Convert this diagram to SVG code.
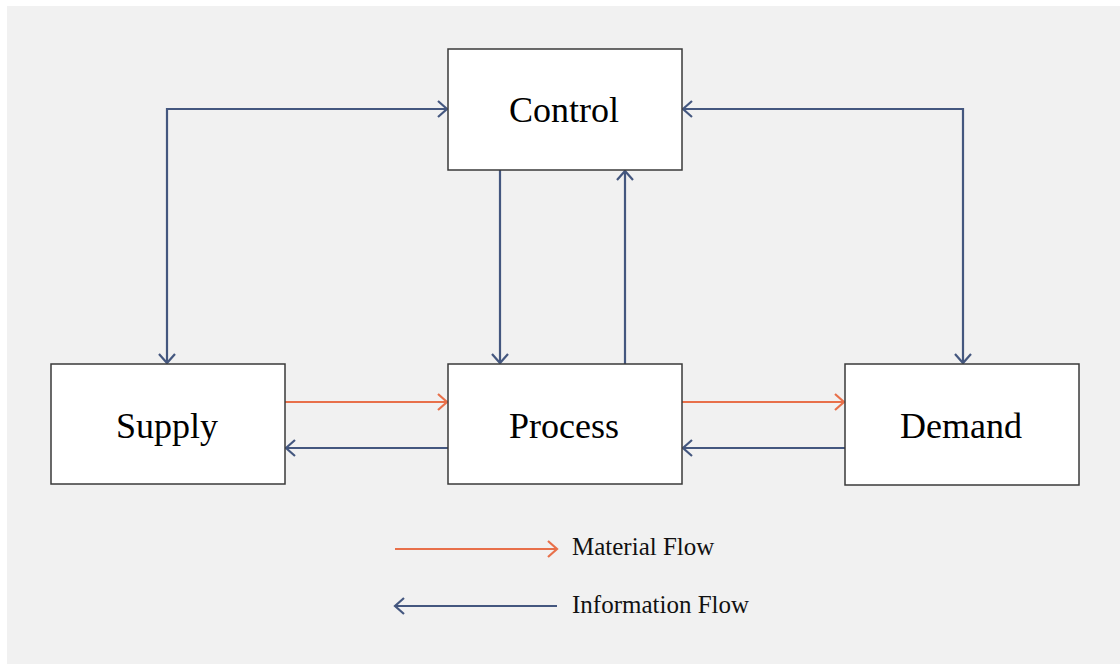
<svg xmlns="http://www.w3.org/2000/svg" width="1120" height="664" viewBox="0 0 1120 664">
  <style>
    .box { fill: #ffffff; stroke: #3a3a3a; stroke-width: 1.5; }
    .label { font-family: "Liberation Serif", "Times New Roman", serif; font-size: 36px; fill: #000; text-anchor: middle; }
    .legend { font-family: "Liberation Serif", "Times New Roman", serif; font-size: 25px; fill: #111; }
    .info { fill: none; stroke: #44577f; stroke-width: 2.2; }
    .mat { fill: none; stroke: #e8704a; stroke-width: 2.2; }
  </style>
  <defs>
    <marker id="arrInfo" markerUnits="userSpaceOnUse" markerWidth="14" markerHeight="20" refX="11" refY="10" orient="auto-start-reverse" viewBox="0 0 14 20">
      <path d="M2,2 L11,10 L2,18" fill="none" stroke="#44577f" stroke-width="2.2"/>
    </marker>
    <marker id="arrMat" markerUnits="userSpaceOnUse" markerWidth="14" markerHeight="20" refX="11" refY="10" orient="auto-start-reverse" viewBox="0 0 14 20">
      <path d="M2,2 L11,10 L2,18" fill="none" stroke="#e8704a" stroke-width="2.2"/>
    </marker>
  </defs>

  <rect x="0" y="0" width="1120" height="664" fill="#ffffff"/>
  <rect x="7" y="6" width="1113" height="658" fill="#f1f1f1"/>

  <g id="connectors">
    <!-- Supply <-> Control -->
    <path class="info" d="M447,109 H167 V363" marker-start="url(#arrInfo)" marker-end="url(#arrInfo)"/>
    <!-- Control <-> Demand -->
    <path class="info" d="M683,109 H963 V363" marker-start="url(#arrInfo)" marker-end="url(#arrInfo)"/>
    <!-- Control -> Process -->
    <path class="info" d="M500,170 V363" marker-end="url(#arrInfo)"/>
    <!-- Process -> Control -->
    <path class="info" d="M625,364 V171" marker-end="url(#arrInfo)"/>
    <!-- Supply -> Process -->
    <path class="mat" d="M285,402 H447" marker-end="url(#arrMat)"/>
    <!-- Process -> Supply -->
    <path class="info" d="M448,448 H286" marker-end="url(#arrInfo)"/>
    <!-- Process -> Demand -->
    <path class="mat" d="M682,402 H844" marker-end="url(#arrMat)"/>
    <!-- Demand -> Process -->
    <path class="info" d="M845,448 H683" marker-end="url(#arrInfo)"/>
  </g>

  <g id="control">
    <rect class="box" x="448" y="49" width="234" height="121"/>
    <text class="label" x="564" y="122">Control</text>
  </g>
  <g id="supply">
    <rect class="box" x="51" y="364" width="234" height="120"/>
    <text class="label" x="167" y="438">Supply</text>
  </g>
  <g id="process">
    <rect class="box" x="448" y="364" width="234" height="120"/>
    <text class="label" x="564" y="438">Process</text>
  </g>
  <g id="demand">
    <rect class="box" x="845" y="364" width="234" height="121"/>
    <text class="label" x="961" y="438">Demand</text>
  </g>

  <g id="legend">
    <path class="mat" d="M395,549 H557" marker-end="url(#arrMat)"/>
    <text class="legend" x="572" y="555">Material Flow</text>
    <path class="info" d="M557,606 H395" marker-end="url(#arrInfo)"/>
    <text class="legend" x="572" y="613">Information Flow</text>
  </g>
</svg>
